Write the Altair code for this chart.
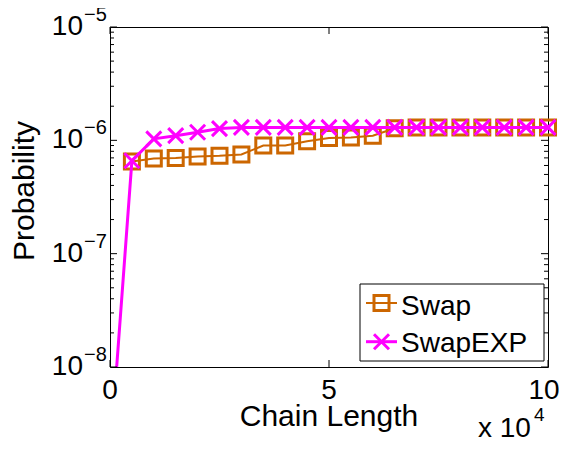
import altair as alt
import pandas as pd

# ---- data ----
chain_x = [5000, 10000, 15000, 20000, 25000, 30000, 35000, 40000, 45000, 50000,
           55000, 60000, 65000, 70000, 75000, 80000, 85000, 90000, 95000, 100000]
swap_p = [6.5e-7, 6.9e-7, 7.0e-7, 7.2e-7, 7.3e-7, 7.5e-7, 9.0e-7, 9.0e-7, 9.8e-7, 1.05e-6,
          1.06e-6, 1.1e-6, 1.28e-6, 1.3e-6, 1.3e-6, 1.3e-6, 1.3e-6, 1.3e-6, 1.3e-6, 1.3e-6]
exp_x = [0] + chain_x
swapexp_p = [1.6e-9, 6.6e-7, 1.03e-6, 1.1e-6, 1.18e-6, 1.27e-6, 1.3e-6, 1.3e-6, 1.3e-6, 1.3e-6,
             1.3e-6, 1.3e-6, 1.3e-6, 1.3e-6, 1.3e-6, 1.3e-6, 1.3e-6, 1.3e-6, 1.3e-6, 1.3e-6, 1.3e-6]

y_major = [1e-8, 1e-7, 1e-6, 1e-5]
y_exponents = ["\u22128", "\u22127", "\u22126", "\u22125"]
y_minor = [m * 10.0 ** e for e in (-8, -7, -6) for m in range(2, 10)]
x_ticks = [0, 50000, 100000]
x_tick_labels = ["0", "5", "10"]
series_names = ["Swap", "SwapEXP"]

ORANGE = "#CC6600"
MAGENTA = "#FF00FF"
FONT = "Liberation Sans"
XPATH = "M-1,-1L1,1M1,-1L-1,1"

W, H = 438, 340

xs = alt.Scale(domain=[0, 100000], nice=False, zero=False)
ys = alt.Scale(type="log", domain=[1e-8, 1e-5], nice=False)

swap_df = pd.DataFrame({"x": chain_x, "p": swap_p})
exp_df = pd.DataFrame({"x": exp_x, "p": swapexp_p})

X = alt.X("x:Q", scale=xs, axis=None)
Y = alt.Y("p:Q", scale=ys, axis=None)

line_swap = alt.Chart(swap_df).mark_line(color=ORANGE, strokeWidth=2, clip=True).encode(x=X, y=Y)
pts_swap = alt.Chart(swap_df).mark_point(shape="square", filled=False, size=225,
                                         strokeWidth=3, color=ORANGE, opacity=1).encode(x=X, y=Y)
line_exp = alt.Chart(exp_df).mark_line(color=MAGENTA, strokeWidth=3, clip=True).encode(x=X, y=Y)
pts_exp = alt.Chart(exp_df).transform_filter("datum.x > 0").mark_point(
    shape=XPATH, filled=False, size=225, strokeWidth=3, color=MAGENTA, opacity=1).encode(x=X, y=Y)

# ---- ticks (inward, MATLAB style) ----
ymaj_df = pd.DataFrame({"v": y_major, "e": y_exponents})
ymin_df = pd.DataFrame({"v": y_minor})
xt_df = pd.DataFrame({"v": x_ticks, "t": x_tick_labels})
YV = alt.Y("v:Q", scale=ys, axis=None)
XV = alt.X("v:Q", scale=xs, axis=None)

tick_layers = [
    alt.Chart(ymaj_df).mark_rule(color="black", strokeWidth=1).encode(y=YV, x=alt.value(0), x2=alt.value(7)),
    alt.Chart(ymaj_df).mark_rule(color="black", strokeWidth=1).encode(y=YV, x=alt.value(W), x2=alt.value(W - 7)),
    alt.Chart(ymin_df).mark_rule(color="black", strokeWidth=1).encode(y=YV, x=alt.value(0), x2=alt.value(4)),
    alt.Chart(ymin_df).mark_rule(color="black", strokeWidth=1).encode(y=YV, x=alt.value(W), x2=alt.value(W - 4)),
    alt.Chart(xt_df).mark_rule(color="black", strokeWidth=1).encode(x=XV, y=alt.value(H), y2=alt.value(H - 7)),
    alt.Chart(xt_df).mark_rule(color="black", strokeWidth=1).encode(x=XV, y=alt.value(0), y2=alt.value(7)),
]

# ---- tick labels ----
ylab10 = alt.Chart(ymaj_df).mark_text(font=FONT, fontSize=28, align="right", baseline="middle",
                                      color="black").encode(y=YV, x=alt.value(-27), text=alt.value("10"))
ylabexp = alt.Chart(ymaj_df).mark_text(font=FONT, fontSize=20, align="left", baseline="middle",
                                       dy=-12, color="black").encode(y=YV, x=alt.value(-26), text="e:N")
xlab = alt.Chart(xt_df).transform_filter("datum.v < 100000").mark_text(
    font=FONT, fontSize=28, align="center", baseline="alphabetic",
    color="black").encode(x=XV, y=alt.value(372), text="t:N")
xlab_last = alt.Chart(xt_df).transform_filter("datum.v >= 100000").mark_text(
    font=FONT, fontSize=28, align="center", baseline="alphabetic", dx=-4,
    color="black").encode(x=XV, y=alt.value(372), text="t:N")

# ---- titles ----
title_df = pd.DataFrame({"a": [0]})
xtitle = alt.Chart(title_df).mark_text(font=FONT, fontSize=30, align="center", baseline="alphabetic",
                                       color="black").encode(x=alt.value(W / 2), y=alt.value(399),
                                                             text=alt.value("Chain Length"))
xmult = alt.Chart(title_df).mark_text(font=FONT, fontSize=28, align="left", baseline="alphabetic",
                                      color="black").encode(x=alt.value(368), y=alt.value(410),
                                                            text=alt.value("x 10"))
xmultexp = alt.Chart(title_df).mark_text(font=FONT, fontSize=19, align="left", baseline="alphabetic",
                                         color="black").encode(x=alt.value(424), y=alt.value(394),
                                                               text=alt.value("4"))
ytitle = alt.Chart(title_df).mark_text(font=FONT, fontSize=30, align="center", baseline="alphabetic",
                                       angle=270, color="black").encode(x=alt.value(-76), y=alt.value(164),
                                                                         text=alt.value("Probability"))

# ---- legend ----
leg_df = pd.DataFrame({"name": series_names})
legend_box = alt.Chart(title_df).mark_rect(fill="white", stroke="black", strokeWidth=1).encode(
    x=alt.value(250), x2=alt.value(434), y=alt.value(257), y2=alt.value(334))
leg_layers = [
    alt.Chart(title_df).mark_rule(color=ORANGE, strokeWidth=2).encode(
        x=alt.value(256), x2=alt.value(287), y=alt.value(276)),
    alt.Chart(title_df).mark_point(shape="square", filled=False, size=225, strokeWidth=3,
                                   color=ORANGE, opacity=1).encode(x=alt.value(271.5), y=alt.value(276)),
    alt.Chart(title_df).mark_rule(color=MAGENTA, strokeWidth=3).encode(
        x=alt.value(256), x2=alt.value(287), y=alt.value(314.7)),
    alt.Chart(title_df).mark_point(shape=XPATH, filled=False, size=225, strokeWidth=3,
                                   color=MAGENTA, opacity=1).encode(x=alt.value(271.5), y=alt.value(314.7)),
    alt.Chart(leg_df).transform_filter("datum.name == 'Swap'").mark_text(
        font=FONT, fontSize=28, align="left", baseline="alphabetic", color="black").encode(
        x=alt.value(291), y=alt.value(288), text="name:N"),
    alt.Chart(leg_df).transform_filter("datum.name == 'SwapEXP'").mark_text(
        font=FONT, fontSize=28, align="left", baseline="alphabetic", color="black").encode(
        x=alt.value(291), y=alt.value(325), text="name:N"),
]

chart = alt.layer(
    line_swap, pts_swap, line_exp, pts_exp,
    *tick_layers, ylab10, ylabexp, xlab, xlab_last, xtitle, xmult, xmultexp, ytitle,
    legend_box, *leg_layers,
).properties(
    width=W, height=H,
    padding={"left": 102, "top": 19, "right": 11, "bottom": 71},
    autosize=alt.AutoSizeParams(type="none"),
).configure_view(stroke="black", strokeWidth=1)

chart.save("out.html", embed_options={"renderer": "svg", "actions": False})
